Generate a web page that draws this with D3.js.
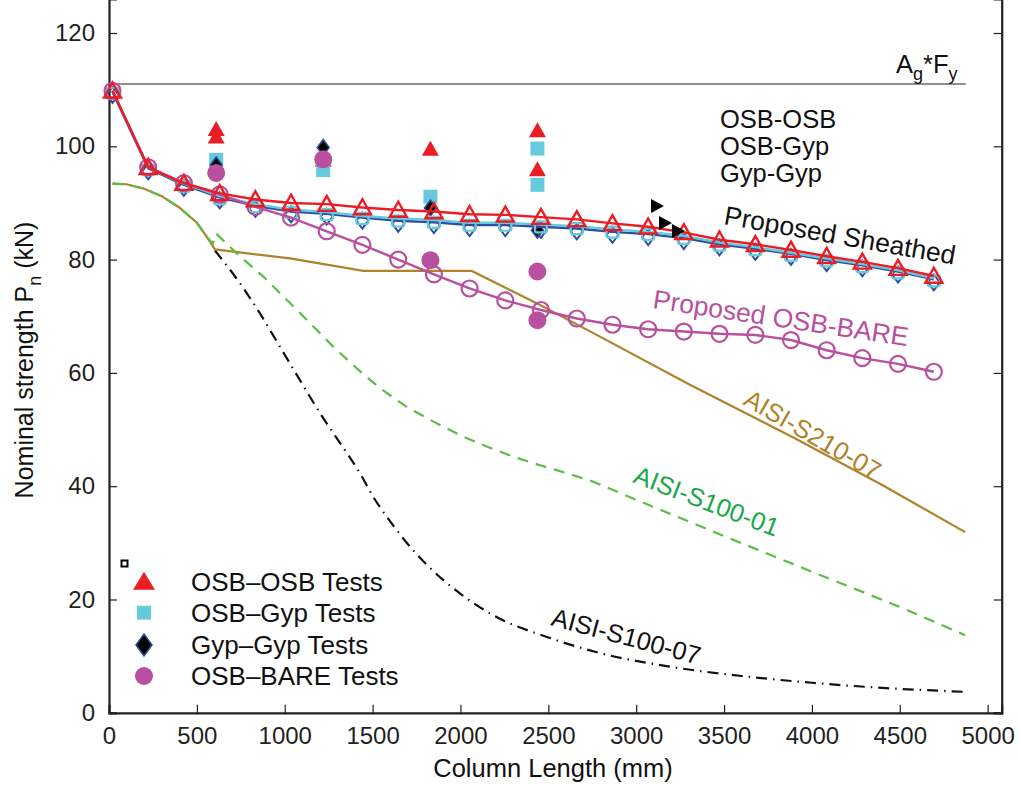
<!DOCTYPE html>
<html><head><meta charset="utf-8">
<script src="https://cdn.jsdelivr.net/npm/d3@7"></script>
<style>
body{margin:0;background:#fff;}
svg{display:block;}
text{font-family:"Liberation Sans",Arial,Helvetica,sans-serif;}
</style>
</head><body>
<svg id="c" width="1019" height="785"></svg>
<script>
// ---------------- data ----------------
const xTicks = [0,500,1000,1500,2000,2500,3000,3500,4000,4500,5000];
const yTicks = [0,20,40,60,80,100,120];
const AgFy = 111.0;
const AgFyEnd = 4875;

// proposed curves (column length mm)
const propLength = [20,223,426,630,833,1036,1239,1442,1646,1849,2052,2255,2458,2662,2865,3068,3271,3474,3678,3881,4084,4287,4490,4694];
const propOsbOsb = [109.8,96.3,93.5,91.7,90.6,90.0,89.8,89.2,88.75,88.5,88.0,87.9,87.5,87.1,86.4,85.8,84.8,83.5,82.7,81.7,80.6,79.6,78.5,77.1];
const propOsbGyp = [109.8,96.3,93.4,91.2,89.8,88.8,88.4,87.7,87.25,87.0,86.5,86.5,86.2,85.9,85.3,84.9,84.2,83.0,82.2,81.2,80.2,79.2,78.1,76.7];
const propGypGyp = [109.6,96.1,93.2,91.0,89.5,88.5,88.1,87.4,86.85,86.6,86.1,86.1,85.8,85.5,84.9,84.5,83.8,82.7,81.9,81.0,79.9,79.0,77.9,76.5];
const propOsbBare = [109.8,96.3,93.5,91.5,89.3,87.4,85.0,82.6,80.0,77.4,74.9,72.8,71.1,69.6,68.5,67.7,67.3,66.9,66.7,65.8,64.0,62.6,61.6,60.2];

// AISI design curves
const s210Length = [20,100,200,300,400,500,550,603,1030,1447,2064,2453,2794,3300,3900,4400,4872];
const s210Value  = [93.4,93.3,92.5,91.2,89.2,86.5,84.3,81.8,80.2,78.0,78.0,72.0,66.4,58.0,48.5,40.2,31.9];
const s10001Length = [20,100,200,300,400,500,550,590,609,727,878,1011,1144,1277,1410,1542,1694,1846,1998,2150,2301,2453,2605,2756,3000,3500,4000,4500,4872];
const s10001Value  = [93.4,93.3,92.5,91.2,89.2,86.5,84.3,82.8,84.6,81.1,77.0,72.9,68.8,64.6,60.8,57.3,54.0,51.4,49.0,47.0,45.2,43.7,42.3,40.8,37.6,31.2,24.9,18.7,13.7];
const s10007Length = [603,746,859,973,1087,1201,1315,1428,1504,1600,1700,1800,2000,2200,2500,2800,3200,3600,4000,4400,4872];
const s10007Value  = [81.6,75.8,70.5,64.6,58.7,52.9,47.6,42.3,38.1,33.8,29.8,26.4,21.0,17.0,13.3,10.5,8.1,6.5,5.3,4.4,3.7];

// tests
const testOsbOsbLength = [610,610,1219,1829,2438,2438];
const testOsbOsbValue  = [103.0,101.7,97.6,99.5,102.8,95.9];
const testOsbGypLength = [610,1219,1829,2438,2438];
const testOsbGypValue  = [97.6,95.8,91.1,99.6,93.2];
const testGypGypLength = [610,1219,1829,2438];
const testGypGypValue  = [96.7,99.8,89.1,85.2];
const testBareLength = [610,1219,1829,2438,2438];
const testBareValue  = [95.3,97.7,79.9,77.9,69.3];

const legendLabels = ["OSB\u2013OSB Tests","OSB\u2013Gyp Tests","Gyp\u2013Gyp Tests","OSB\u2013BARE Tests"];
const sheathLabels = ["OSB-OSB","OSB-Gyp","Gyp-Gyp"];

// ---------------- chart ----------------
const RED="#ec1c24", CYAN="#67c9dc", BLUE="#2d4f9e", MAG="#b94f9f", BROWN="#b0822b", GREEN="#5bbd45", GREENTXT="#1ba64c";
const svg = d3.select("#c");
const x = d3.scaleLinear().domain([0,5080]).range([109,1001.7]);
const y = d3.scaleLinear().domain([0,126]).range([712.8,-1]);
const line = d3.line().x(d=>x(d[0])).y(d=>y(d[1]));
const smooth = d3.line().x(d=>x(d[0])).y(d=>y(d[1])).curve(d3.curveMonotoneX);
const zip=(a,b)=>a.map((v,i)=>[v,b[i]]);

// axes
const gx = svg.append("g").attr("transform",`translate(0,${y(0)})`)
  .call(d3.axisBottom(x).tickValues(xTicks).tickSize(-8).tickPadding(14).tickFormat(d3.format("d")));
const gy = svg.append("g").attr("transform",`translate(${x(0)},0)`)
  .call(d3.axisLeft(y).tickValues(yTicks).tickSize(-8).tickPadding(14));
const gr = svg.append("g").attr("transform",`translate(${x(5080)},0)`)
  .call(d3.axisRight(y).tickValues(yTicks).tickSize(-8).tickFormat(""));
[gx,gy,gr].forEach(g=>{
  g.selectAll(".domain").attr("stroke","#231f20").attr("stroke-width",2.2);
  g.selectAll(".tick line").attr("stroke","#231f20").attr("stroke-width",1.2);
  g.selectAll("text").attr("font-size",24).attr("fill","#231f20").attr("font-family","Liberation Sans, Arial, sans-serif");
});
gx.select(".tick:first-of-type line").remove();
gy.select(".tick:first-of-type line").remove();
gx.selectAll("text").attr("dy","0.71em");

// Ag*Fy line
svg.append("line").attr("x1",x(0)).attr("x2",x(AgFyEnd)).attr("y1",y(AgFy)).attr("y2",y(AgFy))
  .attr("stroke","#231f20").attr("stroke-width",1.2);
const agt = svg.append("text").attr("x",896).attr("y",y(AgFy)-11).attr("font-size",25.5).attr("fill","#111");
agt.append("tspan").text("A");
agt.append("tspan").text("g").attr("font-size",18).attr("dy",7);
agt.append("tspan").text("*F").attr("dy",-7);
agt.append("tspan").text("y").attr("font-size",18).attr("dy",7);

// test markers
const tri=(s,w,h)=>`M0,${-h*0.55}L${w/2},${h*0.45}L${-w/2},${h*0.45}Z`;
const g0=svg.append("g");
zip(testOsbOsbLength,testOsbOsbValue).forEach(d=>g0.append("path").attr("d",tri(0,17,15)).attr("fill",RED)
  .attr("transform",`translate(${x(d[0])},${y(d[1])})`));
zip(testOsbGypLength,testOsbGypValue).forEach(d=>g0.append("rect").attr("x",x(d[0])-7).attr("y",y(d[1])-7).attr("width",14).attr("height",14).attr("fill",CYAN));
zip(testGypGypLength,testGypGypValue).forEach(d=>g0.append("path").attr("d","M0,-8L6,0L0,8L-6,0Z").attr("fill","#000").attr("stroke",BLUE).attr("stroke-width",1.5)
  .attr("transform",`translate(${x(d[0])},${y(d[1])})`));
zip(testBareLength,testBareValue).forEach(d=>g0.append("circle").attr("cx",x(d[0])).attr("cy",y(d[1])).attr("r",9).attr("fill",MAG));

// AISI curves
svg.append("path").attr("d",smooth(zip(s10007Length,s10007Value))).attr("fill","none").attr("stroke","#111").attr("stroke-width",2.2).attr("stroke-dasharray","11,6,1.5,6");
svg.append("path").attr("d",line(zip(s210Length,s210Value))).attr("fill","none").attr("stroke",BROWN).attr("stroke-width",2.2);
svg.append("path").attr("d",line(zip(s10001Length,s10001Value))).attr("fill","none").attr("stroke",GREEN).attr("stroke-width",2.2).attr("stroke-dasharray","11,8");

// proposed curves
function series(vals,color,shape){
  const g=svg.append("g");
  g.append("path").attr("d",line(zip(propLength,vals))).attr("fill","none").attr("stroke",color).attr("stroke-width",2.4);
  zip(propLength,vals).forEach(d=>{
    const t=`translate(${x(d[0])},${y(d[1])})`;
    if(shape==="diamond") g.append("path").attr("d","M0,-5L6,3L0,11L-6,3Z").attr("fill","none").attr("stroke",color).attr("stroke-width",2).attr("transform",t);
    if(shape==="square") g.append("rect").attr("x",-6).attr("y",-3).attr("width",12).attr("height",11).attr("rx",2).attr("fill","none").attr("stroke",color).attr("stroke-width",2.2).attr("transform",t);
    if(shape==="circle") g.append("circle").attr("r",8).attr("fill","none").attr("stroke",color).attr("stroke-width",2.2).attr("transform",t);
    if(shape==="tri") g.append("path").attr("d",tri(0,17,15)).attr("fill","none").attr("stroke",color).attr("stroke-width",2.4).attr("transform",t);
  });
}
series(propGypGyp,BLUE,"diamond");
series(propOsbGyp,CYAN,"square");
series(propOsbBare,MAG,"circle");
series(propOsbOsb,RED,"tri");

// arrows
[[657,206],[665,223],[678,231]].forEach(p=>svg.append("path").attr("d","M-6,-7L7,0L-6,7Z").attr("fill","#000").attr("transform",`translate(${p[0]},${p[1]})`));

// right labels
sheathLabels.forEach((t,i)=>svg.append("text").attr("x",720).attr("y",128+i*27).attr("font-size",25.5).attr("fill","#111").text(t));
svg.append("text").attr("transform","translate(723,224) rotate(10)").attr("font-size",26.5).attr("fill","#111").text("Proposed Sheathed");
svg.append("text").attr("transform","translate(652,308) rotate(8.5)").attr("font-size",26.5).attr("fill",MAG).text("Proposed OSB-BARE");
svg.append("text").attr("transform","translate(742,404) rotate(30)").attr("font-size",25.5).attr("fill",BROWN).text("AISI-S210-07");
svg.append("text").attr("transform","translate(632,482) rotate(21)").attr("font-size",25.5).attr("fill",GREENTXT).text("AISI-S100-01");
svg.append("text").attr("transform","translate(550,625) rotate(15)").attr("font-size",25.5).attr("fill","#111").text("AISI-S100-07");

// legend
svg.append("rect").attr("x",121.5).attr("y",560.5).attr("width",6).attr("height",6).attr("fill","none").attr("stroke","#000").attr("stroke-width",2);
const ly=[581.7,612.7,645,676];
svg.append("path").attr("d",tri(0,22,18)).attr("fill",RED).attr("transform",`translate(144,${ly[0]})`);
svg.append("rect").attr("x",137).attr("y",ly[1]-7).attr("width",14).attr("height",14).attr("fill",CYAN);
svg.append("path").attr("d","M0,-11L8,0L0,11L-8,0Z").attr("fill","#000").attr("stroke",BLUE).attr("stroke-width",1.5).attr("transform",`translate(144,${ly[2]})`);
svg.append("circle").attr("cx",144).attr("cy",ly[3]).attr("r",9).attr("fill",MAG);
legendLabels.forEach((t,i)=>svg.append("text").attr("x",191).attr("y",ly[i]+9).attr("font-size",26).attr("fill","#111").text(t));

// axis titles
svg.append("text").attr("x",553).attr("y",777).attr("text-anchor","middle").attr("font-size",25.5).attr("fill","#111").text("Column Length (mm)");
const yt=svg.append("text").attr("transform","translate(33,360) rotate(-90)").attr("text-anchor","middle").attr("font-size",25).attr("fill","#111");
yt.append("tspan").text("Nominal strength P");
yt.append("tspan").text("n").attr("font-size",18).attr("dy",8);
yt.append("tspan").text(" (kN)").attr("dy",-8);
</script>
</body></html>
